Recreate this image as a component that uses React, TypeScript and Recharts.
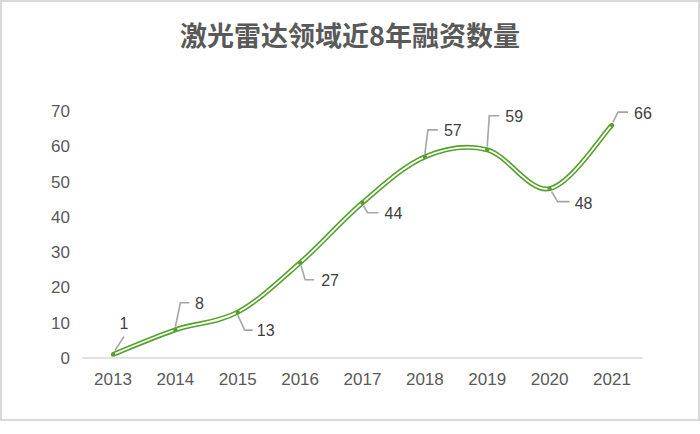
import { LineChart, Line, XAxis, YAxis } from "recharts";

const years = ["2013", "2014", "2015", "2016", "2017", "2018", "2019", "2020", "2021"];
const financingCounts = [1, 8, 13, 27, 44, 57, 59, 48, 66];
const yTicks = [0, 10, 20, 30, 40, 50, 60, 70];

const chartData = years.map((year, i) => ({ year, count: financingCounts[i] }));

// label placement relative to each point, like Excel's dragged data labels
const labelSpots = [
  { dx: 11, dy: -31, leader: [[2, -4], [11, -18]] },
  { dx: 24, dy: -26, leader: [[0, -3], [5, -27], [14, -27]] },
  { dx: 28, dy: 18, leader: [[0, 3], [7, 18], [15, 18]] },
  { dx: 30, dy: 18, leader: [[1, 3], [5, 17], [14, 17]] },
  { dx: 31, dy: 11, leader: [[1, 3], [5, 10], [16, 10]] },
  { dx: 28, dy: -26, leader: [[0, -3], [3, -27], [13, -27]] },
  { dx: 27, dy: -33, leader: [[0, -3], [2, -34], [12, -34]] },
  { dx: 34, dy: 15, leader: [[2, 3], [8, 13], [20, 13]] },
  { dx: 31, dy: -12, leader: [[1, -3], [6, -13], [16, -13]] },
];

const GREEN = "#56a02e";
const FONT = "'Liberation Sans', Arial, sans-serif";

// Excel-style smoothing: Catmull-Rom segments drawn as cubic beziers
function excelSmooth(context: any) {
  let pts: number[][] = [];
  return {
    areaStart() {},
    areaEnd() {},
    lineStart() {
      pts = [];
    },
    point(x: number, y: number) {
      pts.push([x, y]);
    },
    lineEnd() {
      if (!pts.length) return;
      context.moveTo(pts[0][0], pts[0][1]);
      for (let i = 0; i < pts.length - 1; i++) {
        const p0 = pts[Math.max(0, i - 1)];
        const p1 = pts[i];
        const p2 = pts[i + 1];
        const p3 = pts[Math.min(pts.length - 1, i + 2)];
        context.bezierCurveTo(
          p1[0] + (p2[0] - p0[0]) / 6,
          p1[1] + (p2[1] - p0[1]) / 6,
          p2[0] - (p3[0] - p1[0]) / 6,
          p2[1] - (p3[1] - p1[1]) / 6,
          p2[0],
          p2[1]
        );
      }
    },
  };
}

function PointLabel(props: any) {
  const { cx, cy, index } = props;
  if (cx == null || cy == null) return null;
  const spot = labelSpots[index];
  const value = financingCounts[index];
  const d = spot.leader.map((p, k) => `${k ? "L" : "M"}${cx + p[0]},${cy + p[1]}`).join(" ");
  return (
    <g key={`lbl-${index}`}>
      <circle cx={cx} cy={cy} r={2.2} fill={GREEN} />
      <path d={d} fill="none" stroke="#a6a6a6" strokeWidth={1.6} />
      <text
        x={cx + spot.dx}
        y={cy + spot.dy}
        textAnchor="middle"
        dominantBaseline="central"
        fill="#404040"
        fontSize={16}
        fontFamily={FONT}
      >
        {value}
      </text>
    </g>
  );
}

export default function App() {
  return (
    <div style={{ position: "absolute", left: 0, top: 0, width: 700, height: 434, background: "#fff" }}>
      <div
        style={{
          position: "absolute",
          left: 0,
          top: 0,
          width: 700,
          height: 421,
          boxSizing: "border-box",
          border: "2px solid #d9d9d9",
        }}
      />
      <div
        style={{
          position: "absolute",
          left: 0,
          top: 21,
          width: 700,
          textAlign: "center",
          fontFamily: "'Noto Sans CJK SC', sans-serif",
          fontWeight: 700,
          fontSize: 27,
          lineHeight: "27px",
          color: "#595959",
        }}
      >
        激光雷达领域近8年融资数量
      </div>
      <div style={{ position: "absolute", left: 0, top: 0 }}>
        <LineChart width={700} height={434} data={chartData} margin={{ top: 111, right: 57, bottom: 46, left: 0 }}>
          <XAxis
            dataKey="year"
            height={30}
            padding={{ left: 31, right: 31 }}
            tickLine={false}
            tickSize={0}
            tickMargin={15}
            axisLine={{ stroke: "#d9d9d9", strokeWidth: 1.5 }}
            tick={{ fill: "#595959", fontSize: 17, fontFamily: FONT }}
          />
          <YAxis
            width={82}
            domain={[0, 70]}
            ticks={yTicks}
            axisLine={false}
            tickLine={false}
            tickSize={0}
            tickMargin={12}
            tick={{ fill: "#595959", fontSize: 17, fontFamily: FONT }}
          />
          <Line
            dataKey="count"
            type={excelSmooth as any}
            stroke={GREEN}
            strokeWidth={5}
            dot={false}
            activeDot={false}
            isAnimationActive={false}
          />
          <Line
            dataKey="count"
            type={excelSmooth as any}
            stroke="#ffffff"
            strokeWidth={1.8}
            dot={(p: any) => <PointLabel {...p} />}
            activeDot={false}
            isAnimationActive={false}
          />
        </LineChart>
      </div>
    </div>
  );
}
